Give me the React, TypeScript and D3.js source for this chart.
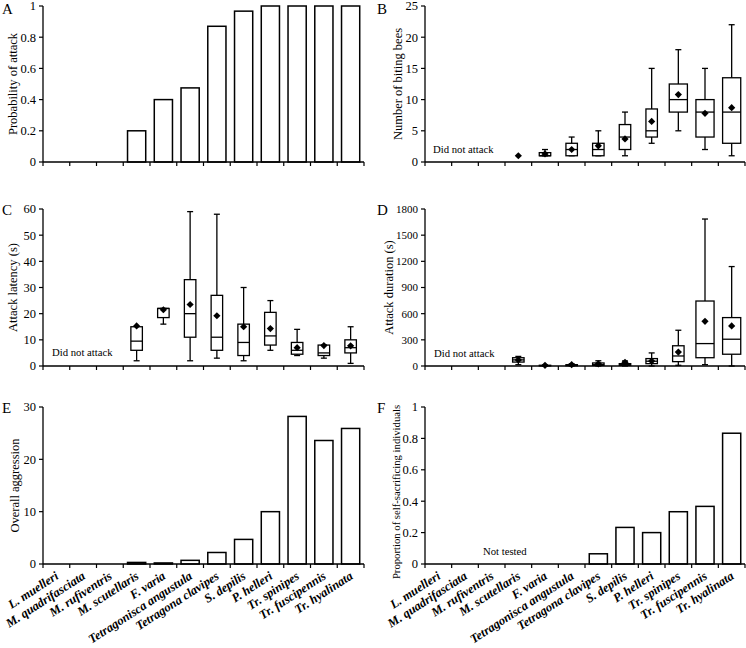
import React from "react";
import * as d3 from "d3";

// ---------- data ----------
const categories = [
  "L. muelleri",
  "M. quadrifasciata",
  "M. rufiventris",
  "M. scutellaris",
  "F. varia",
  "Tetragonisca angustula",
  "Tetragona clavipes",
  "S. depilis",
  "P. helleri",
  "Tr. spinipes",
  "Tr. fuscipennis",
  "Tr. hyalinata",
];

// A: probability of attack
const attackProbability = [0, 0, 0, 0.2, 0.4, 0.475, 0.87, 0.967, 1, 1, 1, 1];

// B: number of biting bees (box plots)
const bitingMin = [null, null, null, null, 1, 1, 1, 1, 3, 5, 2, 1];
const bitingQ1 = [null, null, null, null, 1, 1, 1, 2, 4, 8, 4, 3];
const bitingMedian = [null, null, null, null, 1, 2, 2, 4, 5, 10, 8, 8];
const bitingQ3 = [null, null, null, null, 1.5, 3, 3, 6, 8.5, 12.5, 10, 13.5];
const bitingMax = [null, null, null, null, 2, 4, 5, 8, 15, 18, 15, 22];
const bitingMean = [null, null, null, 1, 1.3, 2, 2.6, 3.7, 6.5, 10.8, 7.8, 8.7];

// C: attack latency (s)
const latencyMin = [null, null, null, 2, 16, 2, 3, 2, 6, 4, 3, 1];
const latencyQ1 = [null, null, null, 6, 18.5, 11, 6, 4, 8, 4.5, 4, 5];
const latencyMedian = [null, null, null, 9.5, 22, 20, 11, 9, 11.5, 6, 5, 7];
const latencyQ3 = [null, null, null, 15, 22, 33, 27, 16, 20.5, 9, 8, 10];
const latencyMax = [null, null, null, 15, 22, 59, 58, 30, 25, 14, 8, 15];
const latencyMean = [null, null, null, 15.3, 21.5, 23.5, 19.2, 15, 14.3, 7, 7.8, 7.7];

// D: attack duration (s)
const durationMin = [null, null, null, 15, 0, 0, 0, 0, 0, 8, 15, 0];
const durationQ1 = [null, null, null, 45, 2, 3, 8, 8, 27, 50, 95, 135];
const durationMedian = [null, null, null, 70, 5, 8, 15, 15, 55, 115, 257, 307];
const durationQ3 = [null, null, null, 95, 8, 15, 35, 27, 85, 232, 745, 555];
const durationMax = [null, null, null, 110, 10, 25, 60, 58, 150, 410, 1685, 1140];
const durationMean = [null, null, null, 70, 8, 15, 25, 42, 57, 160, 512, 460];

// E: overall aggression
const overallAggression = [0, 0, 0, 0.3, 0.2, 0.7, 2.2, 4.7, 10, 28.2, 23.6, 25.9];

// F: proportion of self-sacrificing individuals
const selfSacrifice = [null, null, null, null, null, null, 0.065, 0.233, 0.2, 0.333, 0.367, 0.833];

// tick values
const ticksA = [0, 0.2, 0.4, 0.6, 0.8, 1];
const ticksB = [0, 5, 10, 15, 20, 25];
const ticksC = [0, 10, 20, 30, 40, 50, 60];
const ticksD = [0, 300, 600, 900, 1200, 1500, 1800];
const ticksE = [0, 10, 20, 30];
const ticksF = [0, 0.2, 0.4, 0.6, 0.8, 1];

// ---------- styles ----------
const FONT = "'Liberation Serif', 'Times New Roman', serif";
const wideB = [false, false, false, false, false, false, false, false, false, true, true, true];
const wideC = categories.map(() => false);
const wideD = [false, false, false, false, false, false, false, false, false, false, true, true];

type Frame = { x0: number; x1: number; yTop: number; yBot: number };

const LEFT = { x0: 43, x1: 364 };
const RIGHT = { x0: 425, x1: 745 };
const ROW1 = { yTop: 6, yBot: 162 };
const ROW2 = { yTop: 209, yBot: 366 };
const ROW3 = { yTop: 407, yBot: 564 };

function makeX(f: Frame) {
  return d3.scaleBand<string>().domain(categories).range([f.x0, f.x1]).padding(0);
}

function Axes({
  f,
  y,
  ticks,
  title,
  titleX,
  titleSize = 12.5,
  titleCenter,
  letter,
  letterX,
  letterY,
  tickSize = 12.5,
  showLabels = false,
}: any) {
  const x = makeX(f);
  const bounds = [...categories.map((c) => x(c) as number), f.x1];
  const cy = titleCenter ?? (f.yTop + f.yBot) / 2;
  return (
    <g>
      <line x1={f.x0} x2={f.x0} y1={f.yTop} y2={f.yBot} stroke="#000" strokeWidth={1.3} />
      {ticks.map((t: number) => (
        <g key={t}>
          <line x1={f.x0 - 4} x2={f.x0} y1={y(t)} y2={y(t)} stroke="#000" strokeWidth={1.2} />
          <text
            x={f.x0 - 7}
            y={y(t)}
            dy="0.35em"
            textAnchor="end"
            fontSize={tickSize}
            fontFamily={FONT}
          >
            {String(t)}
          </text>
        </g>
      ))}
      <line x1={f.x0} x2={f.x1} y1={f.yBot} y2={f.yBot} stroke="#000" strokeWidth={1.3} />
      {bounds.map((b, i) => (
        <line key={i} x1={b} x2={b} y1={f.yBot} y2={f.yBot + 4} stroke="#000" strokeWidth={1.2} />
      ))}
      <text
        transform={`translate(${titleX},${cy}) rotate(-90)`}
        textAnchor="middle"
        dy="0.35em"
        fontSize={titleSize}
        fontFamily={FONT}
      >
        {title}
      </text>
      <text x={letterX} y={letterY} fontSize={15} fontFamily={FONT}>
        {letter}
      </text>
      {showLabels &&
        categories.map((c) => {
          const cx = (x(c) as number) + x.bandwidth() / 2;
          return (
            <text
              key={c}
              transform={`translate(${cx + 3},${f.yBot + 14}) rotate(-33)`}
              textAnchor="end"
              fontSize={12.5}
              fontStyle="italic"
              fontWeight="bold"
              fontFamily={FONT}
            >
              {c}
            </text>
          );
        })}
    </g>
  );
}

function Bars({ f, y, values }: any) {
  const x = makeX(f);
  const bw = x.bandwidth() * 0.68;
  return (
    <g>
      {categories.map((c, i) => {
        const v = values[i];
        if (v == null || v <= 0) return null;
        const cx = (x(c) as number) + x.bandwidth() / 2;
        return (
          <rect
            key={c}
            x={cx - bw / 2}
            width={bw}
            y={y(v)}
            height={y(0) - y(v)}
            fill="#fff"
            stroke="#000"
            strokeWidth={1.5}
          />
        );
      })}
    </g>
  );
}

const diamond = d3.symbol().type(d3.symbolSquare).size(26)();

function Boxes({ f, y, mins, q1s, meds, q3s, maxs, means, wide }: any) {
  const x = makeX(f);
  return (
    <g>
      {categories.map((c, i) => {
        const cx = (x(c) as number) + x.bandwidth() / 2;
        const w = wide[i] ? x.bandwidth() * 0.68 : x.bandwidth() * 0.43;
        const hasBox = q1s[i] != null;
        return (
          <g key={c}>
            {hasBox && (
              <g stroke="#000" strokeWidth={1.3}>
                <line x1={cx} x2={cx} y1={y(mins[i])} y2={y(maxs[i])} />
                <line x1={cx - 3} x2={cx + 3} y1={y(mins[i])} y2={y(mins[i])} />
                <line x1={cx - 3} x2={cx + 3} y1={y(maxs[i])} y2={y(maxs[i])} />
                <rect
                  x={cx - w / 2}
                  width={w}
                  y={y(q3s[i])}
                  height={Math.max(0, y(q1s[i]) - y(q3s[i]))}
                  fill="#fff"
                />
                <line x1={cx - w / 2} x2={cx + w / 2} y1={y(meds[i])} y2={y(meds[i])} />
              </g>
            )}
            {means[i] != null && (
              <path d={diamond as string} transform={`translate(${cx},${y(means[i])}) rotate(45)`} fill="#000" />
            )}
          </g>
        );
      })}
    </g>
  );
}

function Note({ x, y, text }: any) {
  return (
    <text x={x} y={y} fontSize={10.7} fontFamily={FONT}>
      {text}
    </text>
  );
}

export default function App() {
  const fA = { ...LEFT, ...ROW1 };
  const fB = { ...RIGHT, ...ROW1 };
  const fC = { ...LEFT, ...ROW2 };
  const fD = { ...RIGHT, ...ROW2 };
  const fE = { ...LEFT, ...ROW3 };
  const fF = { ...RIGHT, ...ROW3 };

  const yA = d3.scaleLinear().domain([0, 1]).range([fA.yBot, fA.yTop]);
  const yB = d3.scaleLinear().domain([0, 25]).range([fB.yBot, fB.yTop]);
  const yC = d3.scaleLinear().domain([0, 60]).range([fC.yBot, fC.yTop]);
  const yD = d3.scaleLinear().domain([0, 1800]).range([fD.yBot, fD.yTop]);
  const yE = d3.scaleLinear().domain([0, 30]).range([fE.yBot, fE.yTop]);
  const yF = d3.scaleLinear().domain([0, 1]).range([fF.yBot, fF.yTop]);

  return (
    <svg
      width={746}
      height={648}
      style={{ position: "absolute", left: 0, top: 0, background: "#fff" }}
    >
      <rect width={746} height={648} fill="#fff" />

      {/* A */}
      <Bars f={fA} y={yA} values={attackProbability} />
      <Axes f={fA} y={yA} ticks={ticksA} title="Probability of attack" titleX={13} letter="A" letterX={2} letterY={14} />

      {/* B */}
      <Boxes
        f={fB}
        y={yB}
        mins={bitingMin}
        q1s={bitingQ1}
        meds={bitingMedian}
        q3s={bitingQ3}
        maxs={bitingMax}
        means={bitingMean}
        wide={wideB}
      />
      <Axes f={fB} y={yB} ticks={ticksB} title="Number of biting bees" titleX={398} letter="B" letterX={377} letterY={14} />
      <Note x={433} y={153} text="Did not attack" />

      {/* C */}
      <Boxes
        f={fC}
        y={yC}
        mins={latencyMin}
        q1s={latencyQ1}
        meds={latencyMedian}
        q3s={latencyQ3}
        maxs={latencyMax}
        means={latencyMean}
        wide={wideC}
      />
      <Axes f={fC} y={yC} ticks={ticksC} title="Attack latency (s)" titleX={13} letter="C" letterX={2} letterY={215} />
      <Note x={52} y={356} text="Did not attack" />

      {/* D */}
      <Boxes
        f={fD}
        y={yD}
        mins={durationMin}
        q1s={durationQ1}
        meds={durationMedian}
        q3s={durationQ3}
        maxs={durationMax}
        means={durationMean}
        wide={wideD}
      />
      <Axes
        f={fD}
        y={yD}
        ticks={ticksD}
        tickSize={11}
        title="Attack duration (s)"
        titleX={389}
        letter="D"
        letterX={377}
        letterY={215}
      />
      <Note x={434} y={357} text="Did not attack" />

      {/* E */}
      <Bars f={fE} y={yE} values={overallAggression} />
      <Axes f={fE} y={yE} ticks={ticksE} title="Overall aggression" titleX={15} letter="E" letterX={2} letterY={413} showLabels />

      {/* F */}
      <Bars f={fF} y={yF} values={selfSacrifice} />
      <Axes
        f={fF}
        y={yF}
        ticks={ticksF}
        title="Proportion of self-sacrificing individuals"
        titleX={396}
        titleSize={10.7}
        titleCenter={492}
        letter="F"
        letterX={377}
        letterY={413}
        showLabels
      />
      <Note x={483} y={555} text="Not tested" />
    </svg>
  );
}
